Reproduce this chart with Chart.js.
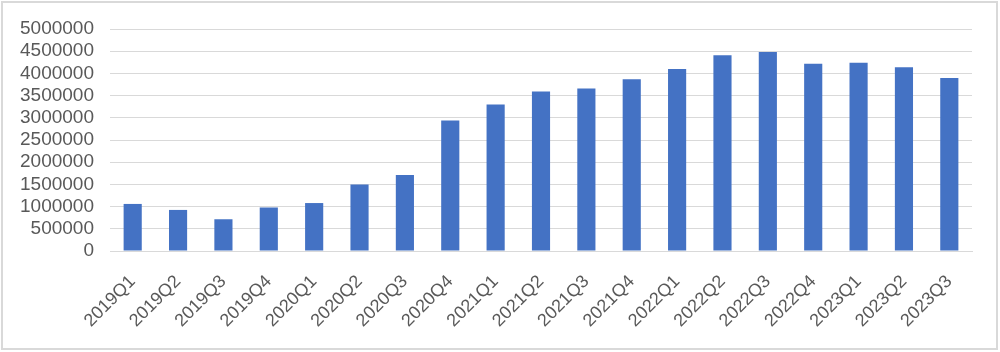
<!DOCTYPE html>
<html>
<head>
<meta charset="utf-8">
<script src="https://cdn.jsdelivr.net/npm/chart.js@4.4.0/dist/chart.umd.min.js"></script>
<style>
  html, body { margin: 0; padding: 0; background: #ffffff; }
  #wrap { position: relative; width: 1000px; height: 352px; }
  canvas { display: block; }
</style>
</head>
<body>
<div id="wrap"><canvas id="c" width="1000" height="352"></canvas></div>
<script>
const categories = ["2019Q1","2019Q2","2019Q3","2019Q4","2020Q1","2020Q2","2020Q3","2020Q4","2021Q1","2021Q2","2021Q3","2021Q4","2022Q1","2022Q2","2022Q3","2022Q4","2023Q1","2023Q2","2023Q3"];
const values = [1060000, 925000, 715000, 980000, 1080000, 1500000, 1710000, 2940000, 3300000, 3595000, 3660000, 3870000, 4100000, 4410000, 4480000, 4220000, 4240000, 4140000, 3895000];
const yTicks = [0, 500000, 1000000, 1500000, 2000000, 2500000, 3000000, 3500000, 4000000, 4500000, 5000000];

const borderPlugin = {
  id: 'frame',
  beforeDraw(chart) {
    const ctx = chart.ctx;
    ctx.save();
    ctx.fillStyle = '#ffffff';
    ctx.fillRect(0, 0, chart.width, chart.height);
    ctx.strokeStyle = '#d9d9d9';
    ctx.lineWidth = 2;
    ctx.strokeRect(2, 2, 995, 347);
    ctx.restore();
  }
};

const fontFamily = '"Liberation Sans", Arial, Helvetica, sans-serif';

new Chart(document.getElementById('c'), {
  type: 'bar',
  data: {
    labels: categories,
    datasets: [{
      data: values,
      backgroundColor: '#4472C4',
      borderWidth: 0,
      barPercentage: 0.4,
      categoryPercentage: 1.0
    }]
  },
  options: {
    responsive: false,
    animation: false,
    devicePixelRatio: 1,
    layout: { padding: { left: 0, right: 28, top: 29, bottom: 0 } },
    plugins: { legend: { display: false }, tooltip: { enabled: false } },
    scales: {
      x: {
        grid: { display: false, drawTicks: false },
        border: { display: true, color: '#d9d9d9', width: 1 },
        ticks: {
          color: '#595959',
          font: { family: fontFamily, size: 18 },
          minRotation: 45,
          maxRotation: 45,
          padding: 20,
          autoSkip: false
        },
        afterFit(scale) { scale.height = 101; }
      },
      y: {
        min: 0,
        max: 5000000,
        afterBuildTicks(scale) { scale.ticks = yTicks.map(v => ({ value: v })); },
        grid: { color: '#d9d9d9', lineWidth: 1, drawTicks: false },
        border: { display: false },
        ticks: {
          color: '#595959',
          font: { family: fontFamily, size: 19 },
          padding: 16,
          autoSkip: false,
          callback: v => String(v)
        },
        afterFit(scale) { scale.width = 110; }
      }
    }
  },
  plugins: [borderPlugin]
});
</script>
</body>
</html>
